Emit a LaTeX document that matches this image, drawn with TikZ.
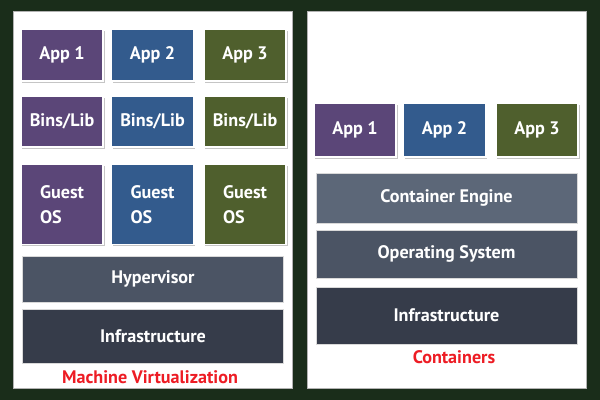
\documentclass[tikz,border=0pt]{standalone}
\usepackage{fontspec}
\setmainfont{PT Sans}
\usepackage{tikz}
\usetikzlibrary{shadows}
\definecolor{bgdark}{HTML}{1A2D1A}
\definecolor{appviolet}{HTML}{5B4678}
\definecolor{appblue}{HTML}{335B8D}
\definecolor{appgreen}{HTML}{4F5F2D}
\definecolor{layerlight}{HTML}{5C6778}
\definecolor{layermid}{HTML}{4B5464}
\definecolor{layerdark}{HTML}{363C4A}
\definecolor{labelred}{HTML}{ED1C24}

\begin{document}
\begin{tikzpicture}[x=0.75pt, y=-0.75pt,
  every node/.style={font=\bfseries\fontsize{13.6}{15.5}\selectfont, text=white, inner sep=0pt},
  appbox/.style={fill=#1, draw=white, line width=1.3pt, minimum width=62pt,
    drop shadow={opacity=0.45, shadow xshift=1.2pt, shadow yshift=-1.4pt}},
  guestos/.style={appbox=#1, minimum height=60pt, align=left,
    font=\bfseries\fontsize{13.6}{18.5}\selectfont},
  layerbar/.style={fill=#1, draw=black!15, line width=0.4pt, minimum width=195.5pt},
  caption/.style={text=labelred}]
  % frame and panels
  \fill[bgdark] (0, 0) rectangle (600, 400);
  \filldraw[fill=white, draw=black!30, line width=0.5pt] (13, 11) rectangle (292, 388);
  \filldraw[fill=white, draw=black!30, line width=0.5pt] (307, 11) rectangle (586, 388);
  % machine virtualization
  \node[appbox=appviolet, minimum height=39pt] (vmapp1) at (62, 55) {App 1};
  \node[appbox=appblue, minimum height=39pt] (vmapp2) at (152.5, 55) {App 2};
  \node[appbox=appgreen, minimum height=39pt] (vmapp3) at (245, 55) {App 3};
  \node[appbox=appviolet, minimum height=38pt] (vmbins1) at (62, 121.5) {Bins/Lib};
  \node[appbox=appblue, minimum height=38pt] (vmbins2) at (152.5, 121.5) {Bins/Lib};
  \node[appbox=appgreen, minimum height=38pt] (vmbins3) at (245, 121.5) {Bins/Lib};
  \node[guestos=appviolet] (vmos1) at (62, 204.5) {Guest\\OS};
  \node[guestos=appblue] (vmos2) at (152.5, 204.5) {Guest\\OS};
  \node[guestos=appgreen] (vmos3) at (245, 204.5) {Guest\\OS};
  \node[layerbar=layermid, minimum height=34.5pt] (hyper) at (153, 279) {Hypervisor};
  \node[layerbar=layerdark, minimum height=40.5pt] (vminfra) at (153, 336) {Infrastructure};
  \node[caption] (vmlabel) at (150, 377) {Machine Virtualization};
  % containers
  \node[appbox=appviolet, minimum height=40.5pt] (ctapp1) at (355, 130) {App 1};
  \node[appbox=appblue, minimum height=40.5pt] (ctapp2) at (444.5, 130) {App 2};
  \node[appbox=appgreen, minimum height=40.5pt] (ctapp3) at (537, 130) {App 3};
  \node[layerbar=layerlight, minimum height=37.5pt] (engine) at (446.5, 198) {Container Engine};
  \node[layerbar=layermid, minimum height=36pt] (hostos) at (446.5, 254) {Operating System};
  \node[layerbar=layerdark, minimum height=43pt] (ctinfra) at (446.5, 315.5) {Infrastructure};
  \node[caption] (ctlabel) at (454, 357) {Containers};
\end{tikzpicture}
\end{document}
